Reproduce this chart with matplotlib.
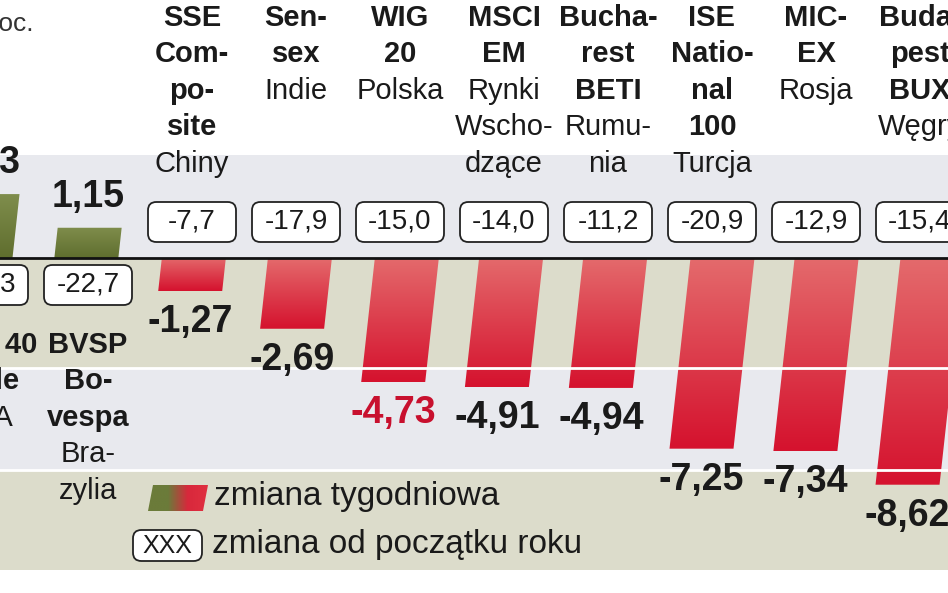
import numpy as np
import matplotlib
matplotlib.use("Agg")
import matplotlib.pyplot as plt
from matplotlib.patches import Polygon, FancyBboxPatch, Rectangle
from matplotlib.colors import LinearSegmentedColormap

# ---- data ----
weekly = [2.43, 1.15, -1.27, -2.69, -4.73, -4.91, -4.94, -7.25, -7.34, -8.62, -9.35]
weekly_labels = ["2,43", "1,15", "-1,27", "-2,69", "-4,73", "-4,91", "-4,94", "-7,25", "-7,34", "-8,62", "-9,35"]
ytd_labels = ["-18,3", "-22,7", "-7,7", "-17,9", "-15,0", "-14,0", "-11,2", "-20,9", "-12,9", "-15,4", "-19,0"]
bold_names = [["IPSA 40", "Chile"], ["BVSP", "Bo-", "vespa"], ["SSE", "Com-", "po-", "site"],
              ["Sen-", "sex"], ["WIG", "20"], ["MSCI", "EM"], ["Bucha-", "rest", "BETI"],
              ["ISE", "Natio-", "nal", "100"], ["MIC-", "EX"], ["Buda-", "pest", "BUX"], ["PX", "50"]]
country_names = [["USA"], ["Bra-", "zylia"], ["Chiny"], ["Indie"], ["Polska"],
                 ["Rynki", "Wscho-", "dzące"], ["Rumu-", "nia"], ["Turcja"], ["Rosja"], ["Węgry"], ["Czechy"]]
highlight = 4  # WIG 20 label in red

FONT = "Liberation Sans"
PXU = 26.3
ZERO = 258
STEP = 104
OFF = -16

def vy(px):
    return (ZERO - px) / PXU
def vx(px):
    return (px - OFF) / STEP

fig = plt.figure(figsize=(9.48, 5.93), dpi=100)
ax = fig.add_axes([0, 0, 1, 1])
ax.set_xlim(vx(0), vx(948))
ax.set_ylim(vy(593), vy(0))
ax.axis("off")

bands = [(155, 258, "#e8e9ee"), (258, 368, "#dcdccb"), (368, 470, "#e8e9ee"), (470, 570, "#dcdccb")]
for top, bot, col in bands:
    ax.add_patch(Rectangle((vx(-50), vy(bot)), vx(1000) - vx(-50), vy(top) - vy(bot),
                           color=col, zorder=0, lw=0))

hw = 32 / STEP
slant = 0.11 * PXU / STEP
red_cm = LinearSegmentedColormap.from_list("r", ["#e46a6c", "#d5122e"])
grn_cm = LinearSegmentedColormap.from_list("g", ["#5f6e2e", "#7f8d4c"])

for i, v in enumerate(weekly):
    c = i
    s = slant * abs(v)
    top_shift = s / 2
    bot_shift = -s / 2
    if v < 0:
        pts = [(c - hw + top_shift, 0), (c + hw + top_shift, 0),
               (c + hw + bot_shift, v), (c - hw + bot_shift, v)]
        cm = red_cm
    else:
        pts = [(c - hw + bot_shift, 0), (c + hw + bot_shift, 0),
               (c + hw + top_shift, v), (c - hw + top_shift, v)]
        cm = grn_cm
    poly = Polygon(pts, closed=True, facecolor="none", edgecolor="none", zorder=2)
    ax.add_patch(poly)
    grad = np.linspace(0, 1, 100).reshape(-1, 1)
    if v > 0:
        grad = grad[::-1]
    im = ax.imshow(grad, cmap=cm, aspect="auto", origin="upper",
                   extent=(c - hw - s, c + hw + s, min(v, 0), max(v, 0)), zorder=2)
    im.set_clip_path(poly)
    ly = v - 31 / PXU if v < 0 else v + 31 / PXU
    ax.text(c - s / 2 if v < 0 else c, ly, weekly_labels[i], ha="center", va="center",
            fontsize=27, fontweight="bold", family=FONT,
            color="#c8102e" if i == highlight else "#1a1a1a", zorder=5)
    by = vy(222) if v < 0 else vy(285)
    bw, bh = 88 / STEP, 40 / PXU
    ax.add_patch(FancyBboxPatch((c - bw / 2, by - bh / 2), bw, bh,
                                boxstyle="round,pad=0,rounding_size=0.08",
                                mutation_aspect=STEP / PXU,
                                facecolor="white", edgecolor="#222222", lw=1.3, zorder=4))
    ax.text(c, by, ytd_labels[i], ha="center", va="center", fontsize=20,
            family=FONT, color="#1a1a1a", zorder=5)
    lines = [(t, "bold") for t in bold_names[i]] + [(t, "normal") for t in country_names[i]]
    y0 = 18 if v < 0 else 345
    for k, (t, w) in enumerate(lines):
        ax.text(c, vy(y0 + 36.5 * k), t, ha="center", va="center", fontsize=21,
                fontweight=w, family=FONT, color="#1a1a1a", zorder=5)

for py in (368, 470):
    ax.plot([vx(-50), vx(1000)], [vy(py), vy(py)], color="white", lw=2, zorder=3)
ax.plot([vx(-50), vx(1000)], [0, 0], color="#111111", lw=2, zorder=3)

ax.text(vx(34), vy(24), "proc.", ha="right", va="center", fontsize=19, family=FONT, color="#333333")

sw = Polygon([(vx(148), vy(511)), (vx(153), vy(485)), (vx(208), vy(485)), (vx(203), vy(511))],
             closed=True, facecolor="none", edgecolor="none", zorder=3)
ax.add_patch(sw)
lg = LinearSegmentedColormap.from_list("l", ["#6b7b3a", "#6b7b3a", "#d8283c", "#e03040"])
im = ax.imshow(np.linspace(0, 1, 100).reshape(1, -1), cmap=lg, aspect="auto",
               extent=(vx(148), vx(208), vy(511), vy(485)), zorder=3)
im.set_clip_path(sw)
ax.text(vx(214), vy(497), "zmiana tygodniowa", ha="left", va="center", fontsize=24,
        family=FONT, color="#1a1a1a")
ax.add_patch(FancyBboxPatch((vx(133), vy(561)), vx(202) - vx(133), 31 / PXU,
                            boxstyle="round,pad=0,rounding_size=0.08", mutation_aspect=STEP / PXU,
                            facecolor="white", edgecolor="#222222", lw=1.3, zorder=4))
ax.text(vx(167), vy(546), "XXX", ha="center", va="center", fontsize=18, family=FONT,
        color="#1a1a1a", zorder=5)
ax.text(vx(212), vy(545), "zmiana od początku roku", ha="left", va="center", fontsize=24,
        family=FONT, color="#1a1a1a")

fig.savefig("out.png", dpi=100)
